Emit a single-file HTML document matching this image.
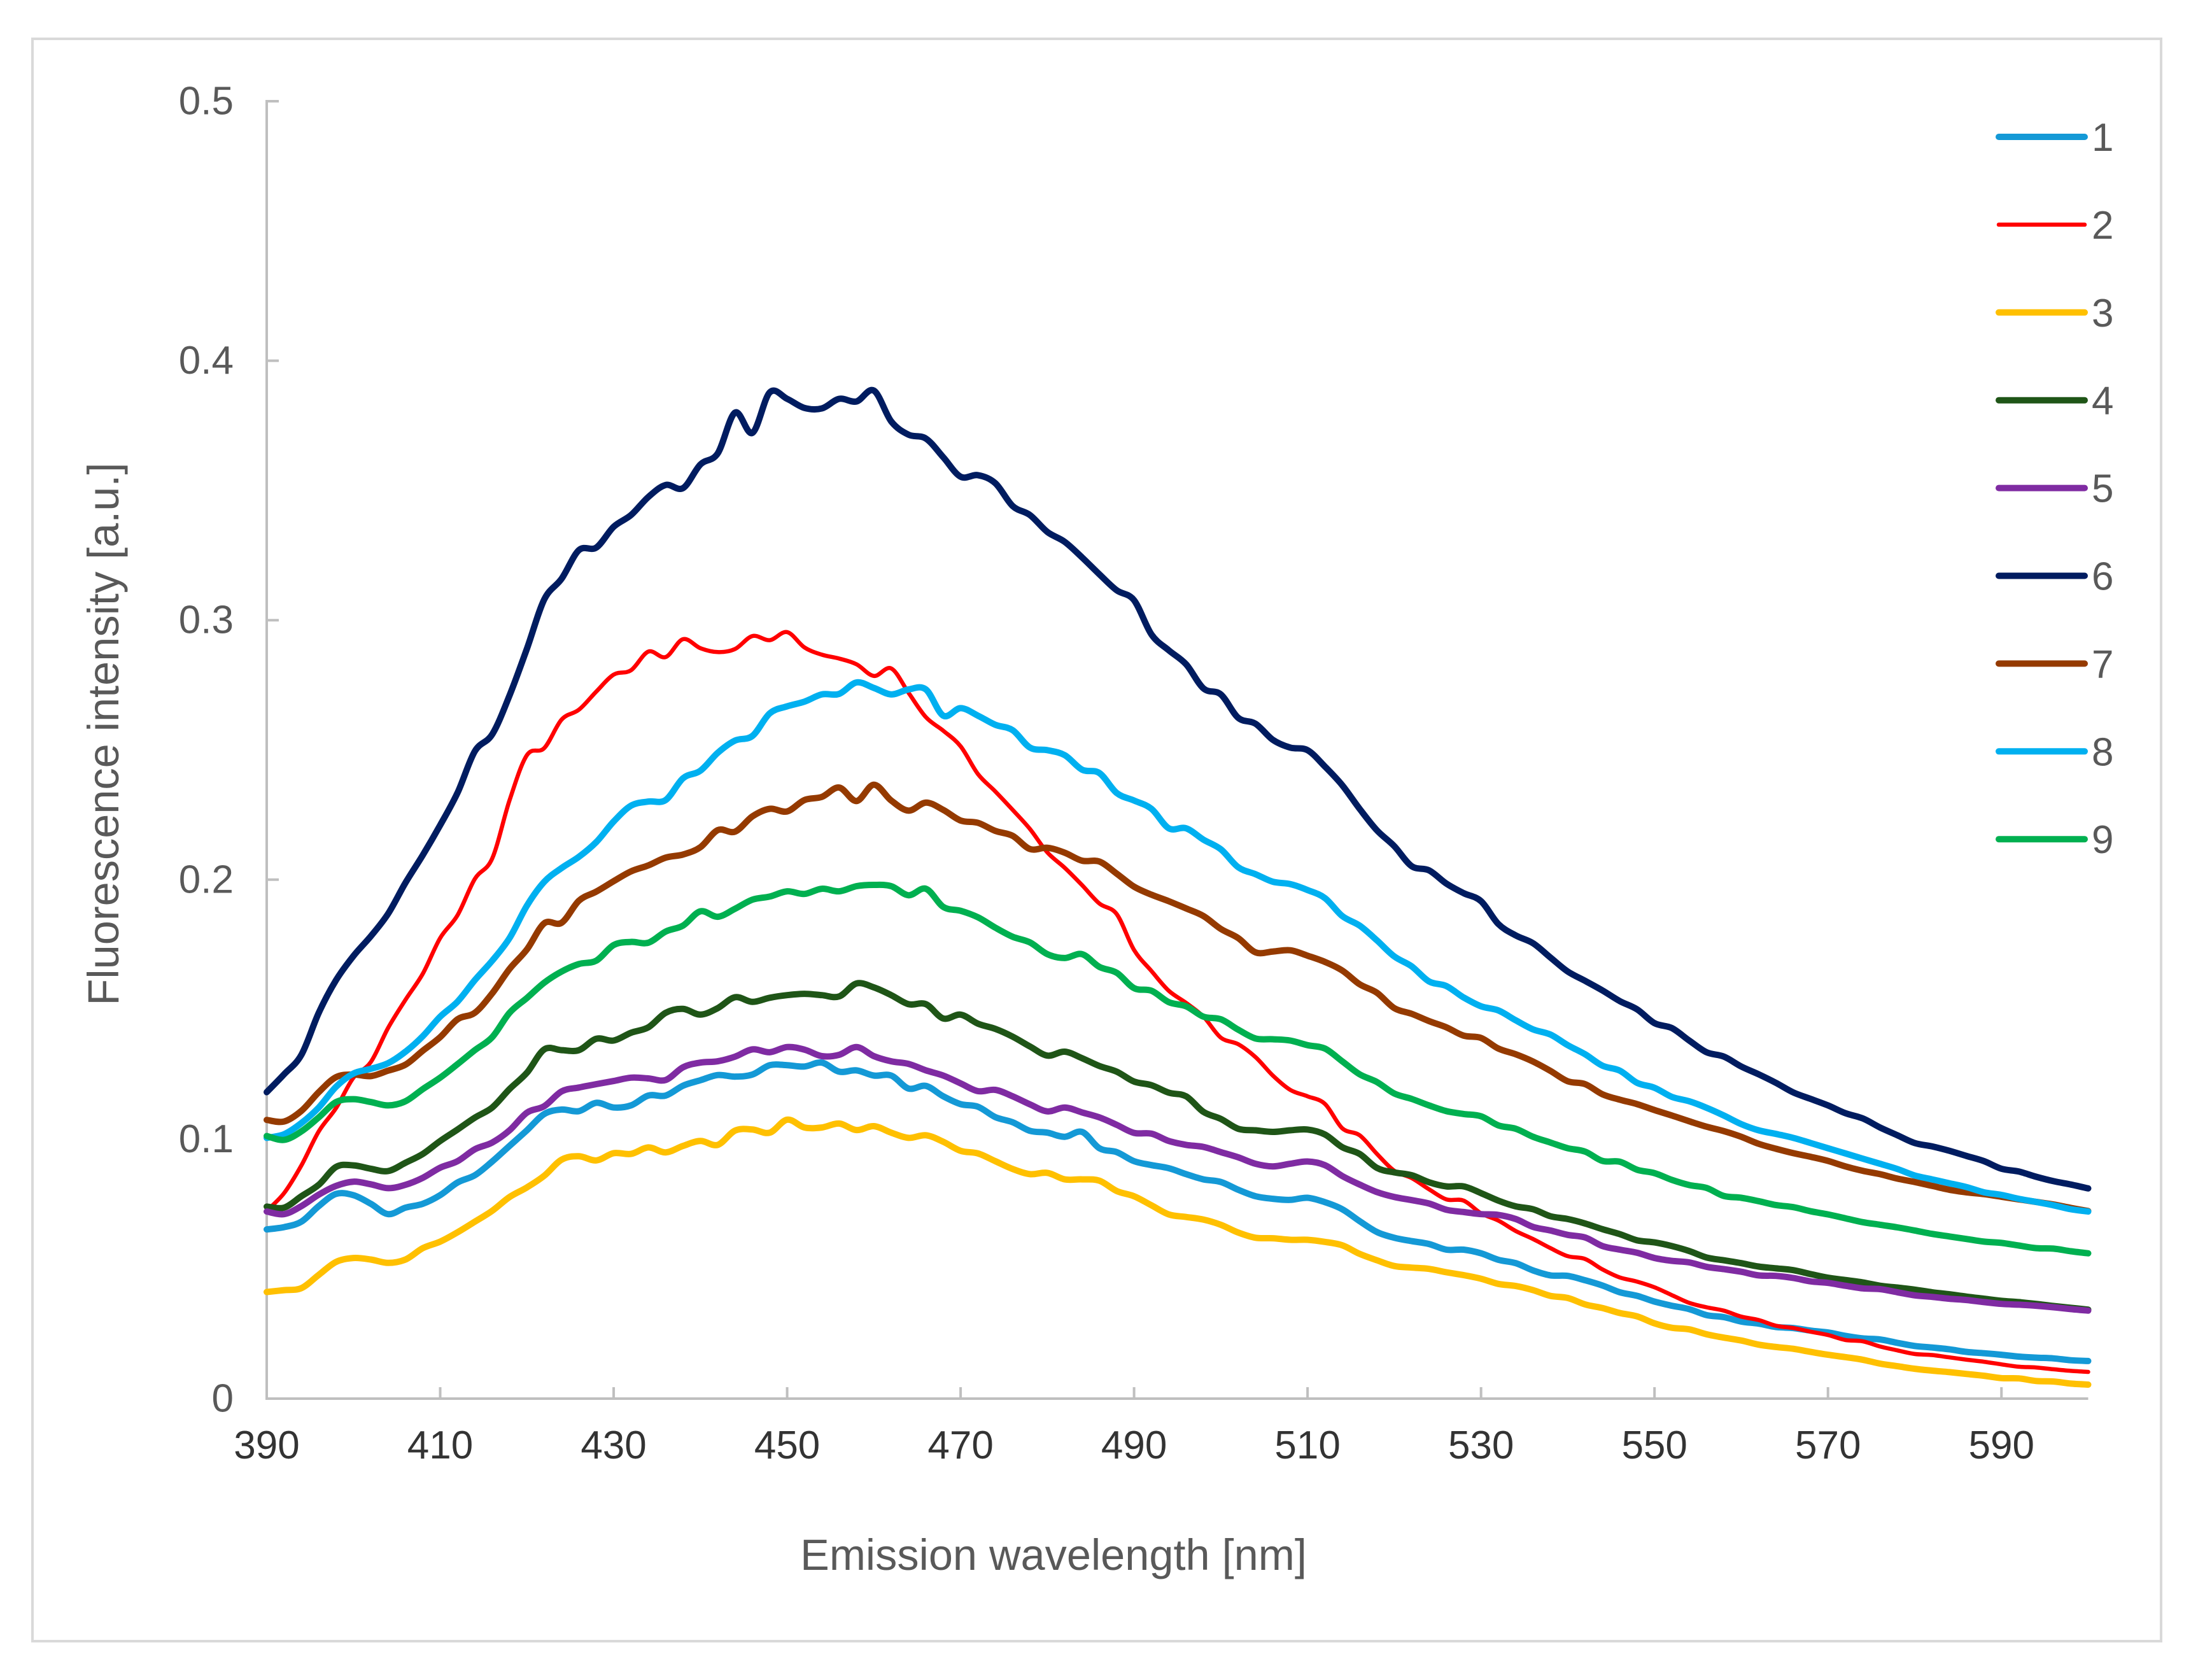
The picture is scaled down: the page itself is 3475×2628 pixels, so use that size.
<!DOCTYPE html>
<html lang="en">
<head>
<meta charset="utf-8">
<title>Fluorescence emission spectra</title>
<style>
html,body{margin:0;padding:0;background:#fff;}
svg{display:block;font-family:"Liberation Sans",Arial,sans-serif;}
</style>
</head>
<body>
<svg id="chart" xmlns="http://www.w3.org/2000/svg" width="3475" height="2628" viewBox="0 0 3475 2628">
  <rect x="0" y="0" width="3475" height="2628" fill="#ffffff"/>
  <rect x="51" y="61" width="3344" height="2517" fill="#ffffff" stroke="#d9d9d9" stroke-width="4"/>
  <text transform="translate(186 1153) rotate(-90)" text-anchor="middle" font-size="68.5" fill="#595959">Fluorescence intensity [a.u.]</text>
  <text x="1655" y="2466" text-anchor="middle" font-size="68.5" fill="#595959">Emission wavelength [nm]</text>
</svg>
<script>
const wavelengthStart = 390;
const wavelengthStep = 2;
const xTickLabels = ["390","410","430","450","470","490","510","530","550","570","590"];
const yTickLabels = ["0","0.1","0.2","0.3","0.4","0.5"];
const legendLabels = ["1","2","3","4","5","6","7","8","9"];

const series1 = [.0652,.0661,.0682,.0742,.0789,.0784,.0751,.0711,.0736,.0751,
.0784,.0833,.0861,.0914,.0974,.1034,.1097,.1114,.1108,.114,
.1122,.113,.1168,.1168,.1206,.1227,.1247,.1241,.1249,.1285,
.1285,.128,.1295,.126,.1265,.1245,.1245,.1195,.1205,.1165,
.1135,.1125,.1085,.1065,.1032,.1025,.1009,.1028,.0965,.095,
.0915,.09,.0888,.0865,.0845,.0835,.0805,.078,.077,.0766,
.0774,.0757,.073,.0684,.0642,.062,.0607,.0596,.0574,.0574,
.056,.0535,.0522,.0494,.0475,.0473,.0456,.0436,.041,.0396,
.0374,.0358,.0345,.0322,.0314,.0297,.0289,.0276,.0272,.0262,
.0255,.0242,.0232,.0228,.0215,.0203,.0197,.019,.018,.0175,
.0169,.0162,.0158,.0155,.0148,.0145];
const series2 = [.0724,.0792,.0899,.103,.112,.1237,.1297,.1429,.1537,.1638,
.1775,.1863,.2003,.2082,.2306,.248,.2507,.2617,.2655,.2725,
.279,.2807,.2879,.2858,.2927,.2892,.2877,.2889,.2939,.2923,
.2954,.2895,.2867,.2852,.283,.2785,.2814,.272,.2626,.2574,
.2514,.2407,.234,.2269,.2195,.2105,.2046,.1979,.1908,.1867,
.1729,.1648,.1572,.1525,.1472,.1391,.1366,.1316,.1245,.119,
.1165,.1136,.1042,.1015,.0943,.0878,.085,.0807,.0768,.0763,
.0714,.0686,.0646,.0615,.058,.0549,.0538,.0498,.0467,.0451,
.0429,.0399,.0369,.0352,.0339,.0316,.0303,.0281,.0272,.0258,
.0245,.0226,.0221,.0201,.0186,.0172,.0168,.0159,.015,.0142,
.0132,.0123,.012,.0113,.0107,.0103];
const series3 = [.0411,.0418,.0426,.0477,.0527,.0542,.0536,.0523,.0536,.058,
.0605,.0641,.0682,.0724,.0777,.0814,.0859,.0921,.0934,.0918,
.0946,.0943,.0968,.0949,.0974,.0993,.0978,.1033,.1037,.1025,
.1075,.1045,.1045,.106,.1035,.105,.1025,.1005,.1015,.099,
.0955,.0945,.0915,.0885,.0865,.087,.0845,.0845,.084,.08,
.078,.0745,.071,.07,.069,.067,.064,.062,.0618,.0612,
.0612,.0604,.0591,.0558,.0533,.0511,.0505,.05,.0487,.0476,
.0462,.0442,.0434,.0418,.0396,.0388,.0363,.0349,.033,.0317,
.029,.0273,.0267,.0248,.0235,.0224,.0208,.0199,.0192,.018,
.0169,.016,.015,.0135,.0125,.0115,.0108,.0102,.0095,.0088,
.0079,.0078,.0068,.0066,.0058,.0054];
const series4 = [.074,.0736,.078,.0824,.0893,.0899,.0886,.0877,.0909,.0943,
.0993,.1037,.1083,.1122,.1193,.1256,.1346,.1343,.1343,.1387,
.138,.141,.1431,.1487,.1502,.148,.1505,.1547,.1529,.1545,
.1555,.156,.1555,.155,.16,.1585,.1555,.152,.152,.1465,
.148,.1445,.1425,.1395,.1357,.1322,.1337,.1312,.1282,.126,
.1222,.1208,.1179,.1165,.1105,.1078,.104,.1034,.1028,.1034,
.1037,.1018,.0969,.0943,.0889,.0872,.0861,.0834,.0818,.0818,
.0792,.0763,.0741,.073,.0703,.0692,.0675,.0653,.0634,.061,
.0602,.0588,.0569,.0544,.0533,.0522,.0509,.0502,.0495,.048,
.0466,.0457,.0448,.0435,.0428,.042,.041,.0402,.0393,.0385,
.0377,.0372,.0365,.0357,.035,.0343];
const series5 = [.0721,.0711,.0742,.0786,.082,.0836,.0826,.0811,.0824,.0851,
.089,.0915,.0961,.0987,.1034,.1102,.1127,.1184,.1199,.1212,
.1224,.1237,.1234,.1228,.1277,.1295,.13,.1318,.1346,.1335,
.1355,.1345,.132,.1325,.1355,.132,.13,.129,.1265,.1245,
.1215,.1185,.119,.1165,.1134,.1107,.1122,.1103,.1084,.1055,
.1024,.1021,.0993,.0978,.097,.095,.093,.0905,.0895,.0905,
.0914,.09,.0858,.0825,.0796,.0777,.0765,.0752,.0728,.0719,
.0711,.0708,.0692,.0662,.0648,.0631,.0621,.0588,.0574,.0562,
.0542,.0531,.0525,.0508,.0499,.0489,.0475,.0473,.0465,.0452,
.0446,.0435,.0425,.0422,.041,.0398,.0392,.0385,.038,.0372,
.0365,.0362,.0358,.0352,.0345,.0339];
const series6 = [.1181,.125,.1325,.1487,.1613,.1706,.1782,.1869,.1988,.2095,
.221,.2335,.2495,.256,.271,.289,.308,.316,.327,.328,
.336,.3405,.3475,.3521,.3509,.36,.3643,.38,.3722,.3878,
.3853,.3818,.3816,.3853,.3843,.3885,.3766,.3715,.37,.3628,
.3553,.3559,.3528,.344,.3405,.334,.3302,.3242,.3177,.3115,
.3077,.2945,.2884,.283,.2737,.2714,.2624,.2601,.2539,.2509,
.2499,.2436,.2364,.2273,.219,.2129,.2052,.2036,.1985,.1948,
.1917,.1829,.1785,.1755,.17,.1646,.161,.1573,.1532,.15,
.1447,.1428,.138,.1335,.1318,.128,.125,.1217,.118,.1155,
.113,.11,.108,.1045,.1015,.0985,.0972,.0955,.0935,.0915,
.0886,.0875,.0855,.0838,.0825,.081];
const series7 = [.1074,.1068,.1109,.1181,.1239,.1249,.1243,.1264,.1287,.1341,
.1393,.1462,.1487,.1562,.1656,.1731,.1832,.1834,.1919,.1954,
.1994,.2032,.2055,.2085,.2097,.2125,.2191,.2185,.2244,.2273,
.2263,.2307,.2319,.2355,.2303,.2366,.2305,.2266,.2297,.2269,
.2228,.2219,.2188,.2169,.2118,.2123,.2104,.2073,.207,.2023,
.1973,.1942,.1917,.1889,.186,.181,.1775,.172,.1723,.1728,
.1707,.1683,.165,.1597,.1564,.1505,.1483,.1455,.1431,.1399,
.139,.1349,.1327,.1299,.1263,.1223,.1212,.1173,.1152,.1135,
.1112,.1091,.1069,.1048,.1031,.1009,.0982,.0963,.0946,.0932,
.0916,.0895,.0878,.0865,.0848,.0835,.082,.0805,.0795,.0788,
.0778,.0768,.0758,.0748,.0735,.0723];
const series8 = [.1005,.1019,.1062,.1122,.1202,.1253,.1271,.1293,.1337,.1397,
.1472,.153,.1613,.1688,.1775,.19,.1992,.2045,.2088,.2145,
.2224,.2285,.2301,.2307,.2391,.242,.2489,.2536,.2554,.2641,
.2668,.2686,.2714,.2716,.276,.2739,.2714,.2733,.2733,.2632,
.2661,.2632,.2597,.2576,.2509,.2499,.248,.2424,.2411,.2334,
.2305,.2273,.2198,.2198,.2154,.2117,.2048,.2021,.1992,.1983,
.196,.1929,.186,.1823,.1766,.1704,.1666,.1608,.159,.1546,
.1512,.1496,.1458,.1423,.1403,.1362,.1327,.1283,.1264,.1217,
.1198,.1163,.1146,.1121,.1091,.1058,.1034,.102,.1005,.0985,
.0965,.0945,.0925,.0905,.0885,.086,.0845,.083,.0815,.0795,
.0785,.077,.0758,.0745,.073,.0721];
const series9 = [.1012,.0997,.103,.1084,.1143,.1154,.1143,.113,.1146,.1193,
.1237,.1289,.1343,.1393,.1487,.1544,.1603,.1646,.1675,.1688,
.1748,.176,.1757,.18,.1823,.1878,.1857,.1888,.1923,.1935,
.1955,.1945,.1965,.1955,.1975,.198,.1975,.194,.1965,.1895,
.188,.1855,.1815,.178,.1758,.1713,.1698,.1713,.1664,.1641,
.1582,.1572,.1528,.1512,.1472,.1462,.1422,.1388,.1385,.138,
.1362,.1349,.13,.125,.122,.1176,.1155,.113,.1108,.1097,
.1088,.1053,.104,.1009,.0987,.0965,.0952,.0916,.0913,.0882,
.0869,.0843,.0823,.0812,.0781,.0774,.0761,.0746,.0738,.0722,
.071,.0695,.068,.067,.066,.0648,.0635,.0625,.0615,.0605,
.06,.059,.058,.0578,.0568,.056];

const allSeries = [series1, series2, series3, series4, series5, series6, series7, series8, series9];
const seriesColors = ["#1499d6","#ff0000","#ffc000","#1f5517","#7f2ba2","#001c60","#953a00","#00b0f0","#00b050"];
const seriesWidths = [10,6.5,10,10,10,10,10,10,10];

const SVG_NS = "http://www.w3.org/2000/svg";
const svg = document.getElementById("chart");
const plotLeft = 419, plotRight = 3280.5, plotTop = 159, plotBottom = 2197;
const xMin = 390, xMax = 600, yMin = 0, yMax = 0.5;

function xScale(nm) { return plotLeft + (nm - xMin) / (xMax - xMin) * (plotRight - plotLeft); }
function yScale(v) { return plotBottom - (v - yMin) / (yMax - yMin) * (plotBottom - plotTop); }

function make(tag, attrs, parent) {
  const el = document.createElementNS(SVG_NS, tag);
  for (const k in attrs) el.setAttribute(k, attrs[k]);
  (parent || svg).appendChild(el);
  return el;
}

function smoothPath(pts) {
  let d = "M" + pts[0][0].toFixed(1) + " " + pts[0][1].toFixed(1);
  for (let i = 0; i < pts.length - 1; i++) {
    const p0 = pts[Math.max(0, i - 1)], p1 = pts[i], p2 = pts[i + 1], p3 = pts[Math.min(pts.length - 1, i + 2)];
    const c1x = p1[0] + (p2[0] - p0[0]) / 6, c1y = p1[1] + (p2[1] - p0[1]) / 6;
    const c2x = p2[0] - (p3[0] - p1[0]) / 6, c2y = p2[1] - (p3[1] - p1[1]) / 6;
    d += "C" + c1x.toFixed(1) + " " + c1y.toFixed(1) + " " + c2x.toFixed(1) + " " + c2y.toFixed(1) + " " + p2[0].toFixed(1) + " " + p2[1].toFixed(1);
  }
  return d;
}

const axisColor = "#bfbfbf";

const yAxisLine = make("line", {x1: plotLeft, y1: plotTop, x2: plotLeft, y2: plotBottom, stroke: axisColor, "stroke-width": 4, "stroke-linecap": "square"});



const xAxisLine = make("line", {x1: plotLeft, y1: plotBottom, x2: plotRight, y2: plotBottom, stroke: axisColor, "stroke-width": 4});



yTickLabels.forEach(function (label) {
  const v = parseFloat(label);
  const y = yScale(v);
  if (v > 0) {
    const tick = make("line", {x1: plotLeft, y1: y, x2: plotLeft + 19, y2: y, stroke: axisColor, "stroke-width": 4});
    
    
  }
  const t = make("text", {x: 367, y: y + 20.5, "text-anchor": "end", "font-size": 62, fill: "#595959"});
  t.textContent = label;
  
  
});

xTickLabels.forEach(function (label) {
  const nm = parseFloat(label);
  const x = xScale(nm);
  if (nm > xMin) {
    const tick = make("line", {x1: x, y1: plotBottom, x2: x, y2: plotBottom - 18, stroke: axisColor, "stroke-width": 4});
    
    
  }
  const t = make("text", {x: x, y: 2291, "text-anchor": "middle", "font-size": 62, fill: "#333333"});
  t.textContent = label;
  
  
});

allSeries.forEach(function (values, s) {
  const pts = values.map(function (v, i) { return [xScale(wavelengthStart + i * wavelengthStep), yScale(v)]; });
  const line = make("path", {d: smoothPath(pts), fill: "none", stroke: seriesColors[s], "stroke-width": seriesWidths[s], "stroke-linejoin": "round", "stroke-linecap": "round"});
  
  
});

legendLabels.forEach(function (label, s) {
  const y = 215 + s * 137.9;
  const key = make("line", {x1: 3140, y1: y, x2: 3275, y2: y, stroke: seriesColors[s], "stroke-width": seriesWidths[s], "stroke-linecap": "round"});
  
  
  const t = make("text", {x: 3286, y: y + 22, "font-size": 62, fill: "#595959"});
  t.textContent = label;
  
  
});
</script>
</body>
</html>
